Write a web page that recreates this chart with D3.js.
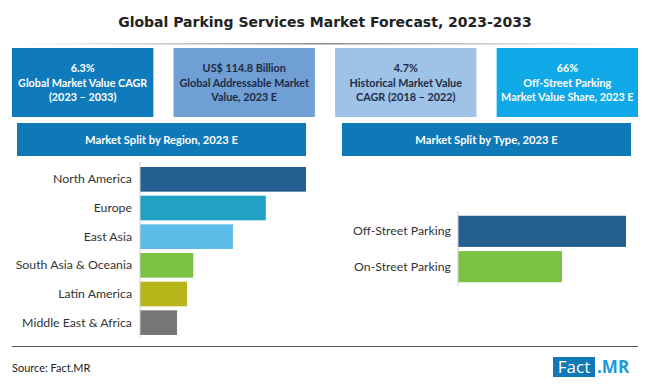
<!DOCTYPE html>
<html>
<head>
<meta charset="utf-8">
<script src="https://cdn.jsdelivr.net/npm/d3@7"></script>
<style>
  body { margin: 0; background: #fff; }
  svg { display: block; font-family: Lato, "Open Sans", sans-serif; }
</style>
</head>
<body>
<div id="chart"></div>
<script>
'use strict';

const title = "Global Parking Services Market Forecast, 2023-2033";

// kpi boxes across the top
const kpiLines = [
  ["6.3%", "Global Market Value CAGR", "(2023 \u2013 2033)"],
  ["US$ 114.8 Billion", "Global Addressable Market", "Value, 2023 E"],
  ["4.7%", "Historical Market Value", "CAGR (2018 \u2013 2022)"],
  ["66%", "Off-Street Parking", "Market Value Share, 2023 E"]
];
const kpiFill = ["#0f7bbd", "#6f9fd4", "#9fc3e6", "#10a9e8"];
const kpiInk = ["#ffffff", "#1e2b45", "#1e2b45", "#ffffff"];

// market split by region (share %)
const regions = ["North America", "Europe", "East Asia", "South Asia & Oceania", "Latin America", "Middle East & Africa"];
const regionShare = [31.8, 24.1, 17.8, 10.2, 9.0, 7.1];
const regionColors = ["#255e91", "#22a0c5", "#5bbce7", "#7cc242", "#b7b51a", "#767676"];

// market split by type
const types = ["Off-Street Parking", "On-Street Parking"];
const typeShare = [66, 34];
const typeColors = ["#255e91", "#7cc242"];

const W = 650, H = 385;

const svg = d3.select("#chart").append("svg")
  .attr("width", W)
  .attr("height", H);

const defs = svg.append("defs");
const grad = defs.append("linearGradient").attr("id", "fadeLine");
grad.append("stop").attr("offset", "0%").attr("stop-color", "#ffffff");
grad.append("stop").attr("offset", "50%").attr("stop-color", "#8a8a8a");
grad.append("stop").attr("offset", "100%").attr("stop-color", "#ffffff");

// title
svg.append("text")
  .attr("x", W / 2)
  .attr("y", 27)
  .attr("text-anchor", "middle")
  .attr("font-family", "'DejaVu Sans', sans-serif")
  .attr("font-weight", "bold")
  .attr("font-size", 14)
  .attr("fill", "#222")
  .text(title);

svg.append("rect")
  .attr("x", 20).attr("y", 43)
  .attr("width", 610).attr("height", 1.5)
  .attr("fill", "url(#fadeLine)");

// kpi row
const kpiX = d3.scaleBand()
  .domain(d3.range(kpiLines.length))
  .range([12, 638])
  .paddingInner(0.125);

const kpi = svg.append("g").selectAll("g")
  .data(kpiLines)
  .enter()
  .append("g")
  .attr("transform", (d, i) => `translate(${kpiX(i)}, 48)`);

kpi.append("rect")
  .attr("width", kpiX.bandwidth())
  .attr("height", 69)
  .attr("fill", (d, i) => kpiFill[i]);

kpi.append("text")
  .attr("text-anchor", "middle")
  .attr("font-weight", "bold")
  .attr("font-size", 10.8)
  .attr("fill", (d, i) => kpiInk[i])
  .selectAll("tspan")
  .data(d => d)
  .enter()
  .append("tspan")
  .attr("x", kpiX.bandwidth() / 2)
  .attr("y", (d, i) => 24 + i * 14.5)
  .text(d => d);

// section headers
const headers = [
  {text: "Market Split by Region, 2023 E", x0: 17, x1: 306},
  {text: "Market Split by Type, 2023 E", x0: 342, x1: 631}
];

const hdr = svg.append("g").selectAll("g")
  .data(headers)
  .enter()
  .append("g");

hdr.append("rect")
  .attr("x", d => d.x0)
  .attr("y", 123)
  .attr("width", d => d.x1 - d.x0)
  .attr("height", 33)
  .attr("fill", "#0f79b8");

hdr.append("text")
  .attr("x", d => (d.x0 + d.x1) / 2)
  .attr("y", 144)
  .attr("text-anchor", "middle")
  .attr("font-weight", "bold")
  .attr("font-size", 11.2)
  .attr("fill", "#fff")
  .text(d => d.text);

// region bars
const regX = d3.scaleLinear()
  .domain([0, d3.max(regionShare)])
  .range([140, 306]);

const regY = d3.scaleBand()
  .domain(regions)
  .range([165, 337])
  .paddingInner(0.14)
  .paddingOuter(0.07);

const regG = svg.append("g");

regG.selectAll("rect")
  .data(regions)
  .enter()
  .append("rect")
  .attr("x", regX(0))
  .attr("y", d => regY(d))
  .attr("width", (d, i) => regX(regionShare[i]) - regX(0))
  .attr("height", regY.bandwidth())
  .attr("fill", (d, i) => regionColors[i]);

const regAxis = regG.append("g")
  .attr("transform", `translate(${regX(0)}, 0)`)
  .call(d3.axisLeft(regY).tickSize(0).tickPadding(8));
regAxis.select(".domain").attr("stroke", "#d0d0d0").attr("d", "M0,162V338");
regAxis.selectAll("text")
  .attr("font-family", "Lato, sans-serif")
  .attr("font-size", 12.3)
  .attr("fill", "#333");

// type bars (source bars do not start from zero)
const typeX = d3.scaleLinear()
  .domain([-18, d3.max(typeShare)])
  .range([458, 626]);

const typeY = d3.scaleBand()
  .domain(types)
  .range([214, 284])
  .paddingInner(0.12)
  .paddingOuter(0.05);

const typeG = svg.append("g");

typeG.selectAll("rect")
  .data(types)
  .enter()
  .append("rect")
  .attr("x", typeX(-18))
  .attr("y", d => typeY(d))
  .attr("width", (d, i) => typeX(typeShare[i]) - typeX(-18))
  .attr("height", typeY.bandwidth())
  .attr("fill", (d, i) => typeColors[i]);

const typeAxis = typeG.append("g")
  .attr("transform", `translate(${typeX(-18)}, 0)`)
  .call(d3.axisLeft(typeY).tickSize(0).tickPadding(7));
typeAxis.select(".domain").attr("stroke", "#d0d0d0").attr("d", "M0,211V286");
typeAxis.selectAll("text")
  .attr("font-family", "Lato, sans-serif")
  .attr("font-size", 12.3)
  .attr("fill", "#333");

// footer
svg.append("line")
  .attr("x1", 12).attr("x2", 638)
  .attr("y1", 346.5).attr("y2", 346.5)
  .attr("stroke", "#555")
  .attr("stroke-width", 1);

svg.append("text")
  .attr("x", 12)
  .attr("y", 372)
  .attr("font-size", 11)
  .attr("fill", "#222")
  .text("Source: Fact.MR");

const logo = svg.append("g");
logo.append("rect")
  .attr("x", 553).attr("y", 357)
  .attr("width", 42).attr("height", 20)
  .attr("fill", "#1078b7");
logo.append("text")
  .attr("x", 574).attr("y", 373)
  .attr("text-anchor", "middle")
  .attr("font-family", "'Open Sans', sans-serif")
  .attr("font-size", 17)
  .attr("fill", "#fff")
  .text("Fact");
logo.append("text")
  .attr("x", 597).attr("y", 373)
  .attr("font-family", "'Open Sans', sans-serif")
  .attr("font-weight", "bold")
  .attr("font-size", 17)
  .attr("fill", "#1a9ad6")
  .text(".MR");
</script>
</body>
</html>
